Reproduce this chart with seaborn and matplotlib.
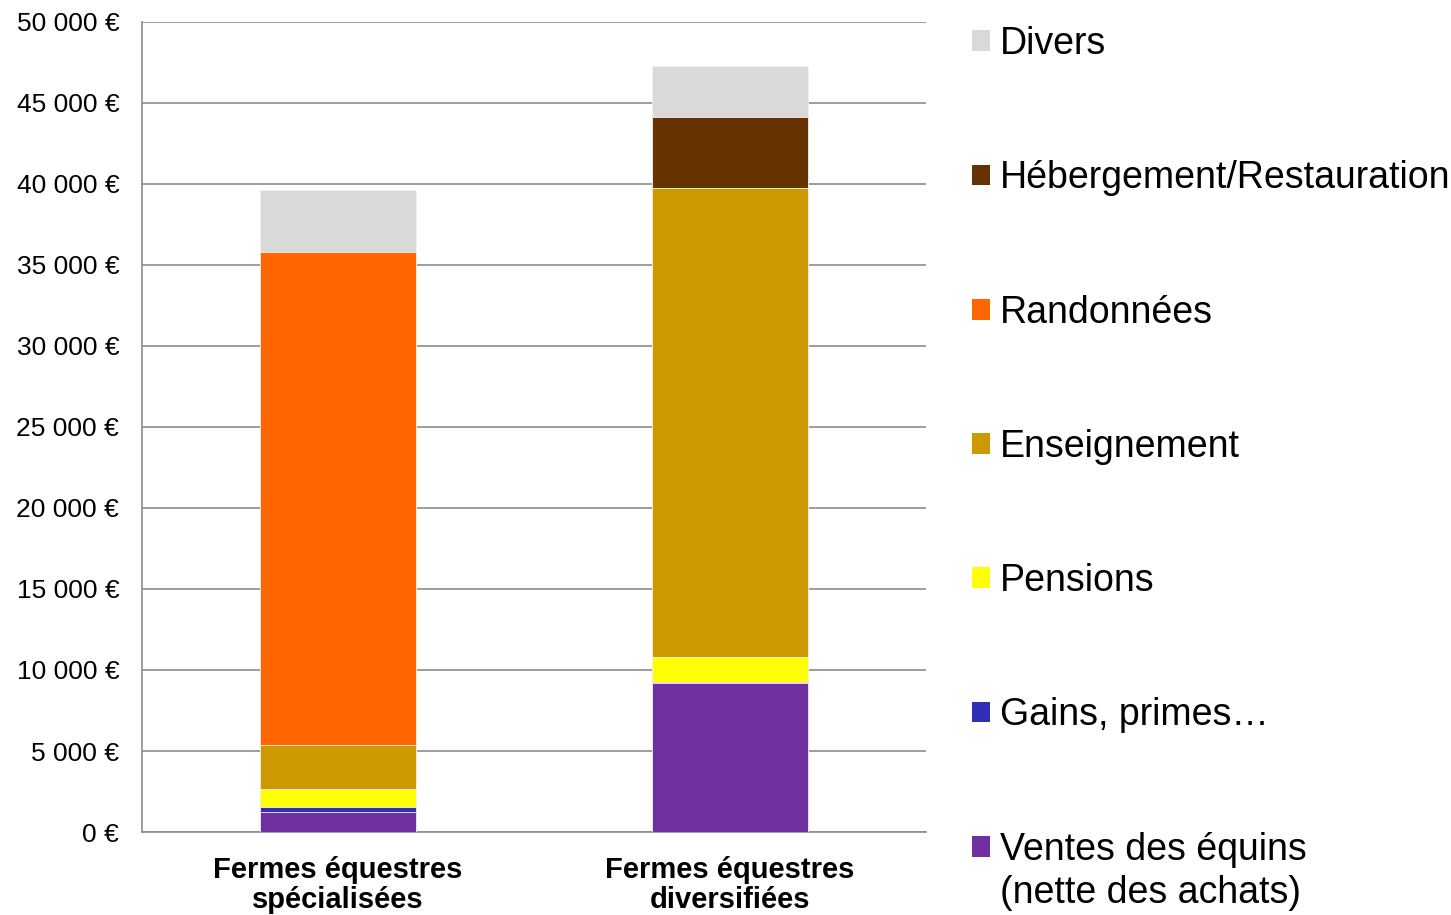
import matplotlib
matplotlib.use("Agg")
import matplotlib.pyplot as plt
import numpy as np
import pandas as pd
import seaborn as sns
from matplotlib.patches import Patch

# Categories and revenue components (euros), bottom to top
fermes = ["Fermes équestres\nspécialisées", "Fermes équestres\ndiversifiées"]
postes = ["Ventes des équins", "Gains, primes…", "Pensions",
          "Enseignement", "Randonnées", "Hébergement/Restauration", "Divers"]
ventes = [1250, 9180]
gains = [300, 100]
pensions = [1080, 1540]
enseignement = [2760, 28930]
randonnees = [30410, 0]
hebergement = [0, 4380]
divers = [3830, 3150]
couleurs = ["#7030A0", "#2E2EB8", "#FFFF00", "#CC9900", "#FF6600", "#663300", "#D9D9D9"]

valeurs = np.array([ventes, gains, pensions, enseignement, randonnees, hebergement, divers])
cumul = valeurs.cumsum(axis=0)

sns.set_style("white")
plt.rcParams['font.family'] = ['Liberation Sans', 'DejaVu Sans']

fig = plt.figure(figsize=(14.51, 9.15), dpi=100)
ax = fig.add_axes([0.0979, 0.0907, 0.5403, 0.8853])

# draw the cumulative totals from top layer down so each one shows as a stacked segment
for i in range(len(postes) - 1, -1, -1):
    df = pd.DataFrame({"ferme": fermes, "total": cumul[i]})
    sns.barplot(data=df, x="ferme", y="total", color=couleurs[i], saturation=1,
                width=0.4, edgecolor="#f2f2f2", linewidth=0.6, ax=ax, zorder=3)

ax.set_ylim(0, 50000)
ax.set_xlim(-0.5, 1.5)
ax.set_yticks(np.arange(0, 50001, 5000))
ax.set_yticklabels([f"{v:,.0f} €".replace(",", " ") for v in np.arange(0, 50001, 5000)],
                   fontsize=19, color="black")
ax.yaxis.grid(True, color="#8c8c8c", linewidth=1.2, zorder=0)
ax.set_axisbelow(True)
ax.set_xlabel("")
ax.set_ylabel("")
ax.set_xticks([0, 1])
ax.set_xticklabels(fermes, fontsize=21, fontweight="bold", linespacing=1.07, color="black")
ax.set_xticks([-0.5, 0.5, 1.5], minor=True)
ax.tick_params(axis="x", which="major", length=0, pad=17.5)
ax.tick_params(axis="x", which="minor", length=7, color="#8c8c8c", width=1.2, direction="out")
ax.tick_params(axis="y", length=6, color="#8c8c8c", width=1.2, direction="out", pad=10.5)
for s in ["top", "right"]:
    ax.spines[s].set_visible(False)
for s in ["left", "bottom"]:
    ax.spines[s].set_color("#8c8c8c")
    ax.spines[s].set_linewidth(1.2)

handles = [Patch(facecolor=c, edgecolor="none") for c in couleurs][::-1]
leg = fig.legend(handles, postes[::-1], loc="upper left", bbox_to_anchor=(0.657, 0.992),
                 frameon=False, fontsize=27, labelspacing=2.62, handlelength=0.48,
                 handleheight=0.48, handletextpad=0.27, borderpad=0)
for t in leg.get_texts():
    t.set_color("black")

# second line of the last legend entry, placed right under its first line
fig.canvas.draw()
bb = leg.get_texts()[-1].get_window_extent()
x0, y0 = fig.transFigure.inverted().transform((bb.x0, bb.y0))
fig.text(x0, y0 - 0.008, "(nette des achats)", fontsize=27, color="black", va="top", ha="left")

fig.savefig("out.png", dpi=100)
